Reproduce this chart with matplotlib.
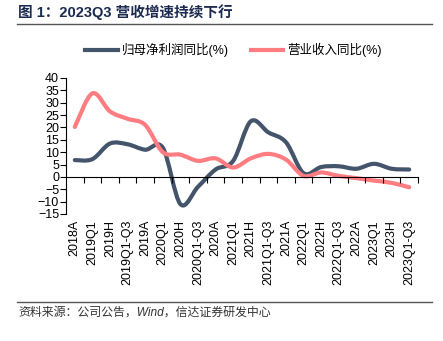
import numpy as np
import matplotlib
matplotlib.use("Agg")
import matplotlib.pyplot as plt
from matplotlib.path import Path
from matplotlib.patches import PathPatch
from matplotlib.lines import Line2D

plt.rcParams['font.family'] = ['Liberation Sans', 'Noto Sans CJK SC']

periods = ['2018A', '2019Q1', '2019H', '2019Q1-Q3', '2019A', '2020Q1', '2020H',
           '2020Q1-Q3', '2020A', '2021Q1', '2021H', '2021Q1-Q3', '2021A',
           '2022Q1', '2022H', '2022Q1-Q3', '2022A', '2023Q1', '2023H', '2023Q1-Q3']
profit_yoy = [6.8, 7.2, 13.5, 13.2, 11.0, 11.8, -11.0, -4.0, 3.0, 6.5,
              22.5, 18.0, 14.0, 1.5, 4.0, 4.3, 3.3, 5.3, 3.3, 3.0]
revenue_yoy = [20.2, 33.8, 26.5, 23.5, 21.0, 10.0, 9.0, 6.5, 7.5, 3.8,
               7.5, 9.3, 7.0, 0.4, 1.8, 0.4, -0.5, -1.5, -2.4, -4.2]

dark = '#44546A'
pink = '#FF7C80'


def smooth_path(xs, ys):
    # Excel-style smoothed line: cubic bezier between the points
    pts = np.column_stack([xs, ys]).astype(float)
    n = len(pts)
    verts = [pts[0]]
    codes = [Path.MOVETO]
    for i in range(n - 1):
        p0 = pts[i - 1] if i > 0 else pts[i]
        p1 = pts[i]
        p2 = pts[i + 1]
        p3 = pts[i + 2] if i + 2 < n else pts[i + 1]
        c1 = p1 + (p2 - p0) / 6.0
        c2 = p2 - (p3 - p1) / 6.0
        verts += [c1, c2, p2]
        codes += [Path.CURVE4] * 3
    return Path(verts, codes)


fig = plt.figure(figsize=(4.43, 3.41), dpi=100)
ax = fig.add_axes([66 / 443, 1 - 214 / 341, (418 - 66) / 443, (214 - 78) / 341])

x = np.arange(len(periods))
for vals, col in [(profit_yoy, dark), (revenue_yoy, pink)]:
    ax.add_patch(PathPatch(smooth_path(x, vals), facecolor='none', edgecolor=col,
                           lw=3, capstyle='round', joinstyle='round'))

ax.set_xlim(-0.5, len(periods) - 0.5)
ax.set_ylim(-15, 40)
ax.set_yticks(range(-15, 41, 5))
ax.tick_params(axis='y', direction='out', length=4, width=0.8, labelsize=9, pad=1)

ax.spines['top'].set_visible(False)
ax.spines['right'].set_visible(False)
ax.spines['bottom'].set_position(('data', 0))
ax.spines['bottom'].set_linewidth(0.8)
ax.spines['left'].set_linewidth(0.8)

ax.set_xticks(x)
ax.set_xticklabels(periods, rotation=90, fontsize=9)
ax.set_xticks(np.arange(0.5, len(periods)), minor=True)
ax.tick_params(axis='x', which='major', length=0, pad=31)
ax.tick_params(axis='x', which='minor', direction='out', length=4, width=0.8)

handles = [Line2D([], [], color=dark, lw=3), Line2D([], [], color=pink, lw=3)]
fig.legend(handles, ['归母净利润同比(%)', '营业收入同比(%)'], loc='center',
           bbox_to_anchor=(0.527, 1 - 50 / 341), ncol=2, frameon=False,
           fontsize=9, handlelength=2.6, handletextpad=0.3, columnspacing=1.8)

fig.text(18 / 443, 1 - 12 / 341, '图 1：2023Q3 营收增速持续下行', fontsize=10.5,
         fontweight='bold', color='#1B2A4E', va='center', ha='left')
fig.add_artist(Line2D([17 / 443, 432 / 443], [1 - 24 / 341, 1 - 24 / 341],
                      color='#555555', lw=1))
fig.add_artist(Line2D([17 / 443, 432 / 443], [1 - 302 / 341, 1 - 302 / 341],
                      color='#555555', lw=1))
fig.text(18 / 443, 1 - 313 / 341, '资料来源：公司公告，Wind，信达证券研发中心',
         fontsize=8.6, style='italic', color='#333333', va='center', ha='left')

fig.savefig('out.png', dpi=100)
